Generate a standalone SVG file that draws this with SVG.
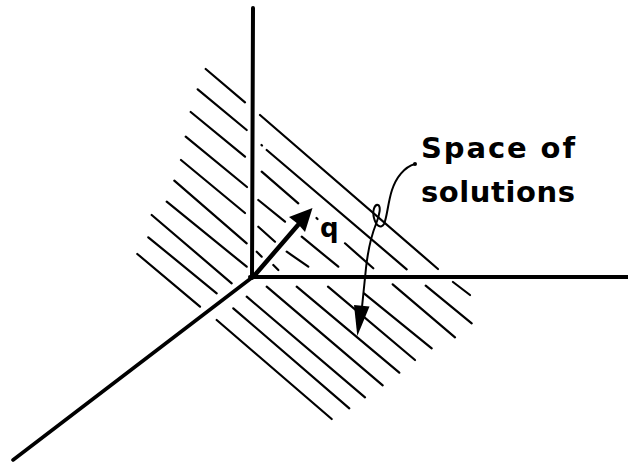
<svg xmlns="http://www.w3.org/2000/svg" width="628" height="462" viewBox="0 0 628 462">
<defs>
<style>
.axis{stroke:#000;stroke-width:4;fill:none;stroke-linecap:round}
.hatch{stroke:#000;stroke-width:2.2;fill:none;stroke-linecap:round}
.lead{stroke:#000;stroke-width:2;fill:none;stroke-linecap:round;stroke-linejoin:round}
.lbl{font-family:"DejaVu Sans","Liberation Sans",sans-serif;font-weight:bold;fill:#000}
</style>
</defs>
<rect width="628" height="462" fill="#fff"/>
<g id="hatching">
<path class="hatch" d="M205.7,69L245,102.3M197.7,89.3L246.7,130M190.7,112L245,156.7M185.7,136.7L247,187M181,160L245,213M174.3,180.7L246.7,243.3M166.7,201.7L246.7,266.7M151.7,215L231.7,283.3M148.3,237.3L216.7,293.3M137.3,254L200,306.7"/>
<path class="hatch" d="M260,115L438,269M261.5,145L262,145.5M266.7,150L406.7,269.3M261.7,171.7L298.3,203.3M316.5,218L317.5,219M345,243.3L373.3,268.3M258.3,200L285,221.7M301.7,236.7L338.3,266.7M258.3,226.7L275,241.7M286.7,251.7L308.3,266.7M256.7,251.7L261.7,256.7M273.3,265L278.3,270"/>
<path class="hatch" d="M216.7,320L331.7,419M233.3,308.3L349.3,408.3M246.7,296.7L365,397.3M266.7,286.7L382.7,385.3M296.7,286.7L399.3,372.7M328,286.7L415,360M364,293.3L431.7,348.3M392.7,284.3L455,337.3M425.7,285.7L471.7,323.3M453,282L470,295"/>
</g>
<g id="axes">
<path class="axis" d="M253,8L252,278"/>
<path class="axis" d="M250,277L628,277"/>
<path class="axis" d="M254,276L13,460" style="stroke-width:3.6"/>
</g>
<g id="vector-q">
<path class="axis" d="M254,276L298,225" style="stroke-width:4.5"/>
<polygon points="312.5,208 305,232 298,224 289,217" fill="#000"/>
<text class="lbl" x="320" y="237" font-size="26">q</text>
</g>
<g id="label">
<text class="lbl" x="421" y="158" font-size="29" textLength="154" lengthAdjust="spacing">Space of</text>
<text class="lbl" x="421" y="201.5" font-size="29" textLength="154" lengthAdjust="spacing">solutions</text>
</g>
<g id="connectors">
<path class="lead" d="M415,164C404,167 396,178 392,190C388,202 387,218 384,224C381,229 376,226 374,218C372,210 375,204 378,205C381,206 380,214 376,224C372,234 368,250 366,268L362,307"/>
<circle cx="415" cy="164" r="2" fill="#000"/>
<polygon points="354,305 369.5,306.5 357.3,336" fill="#000"/>
</g>
</svg>
